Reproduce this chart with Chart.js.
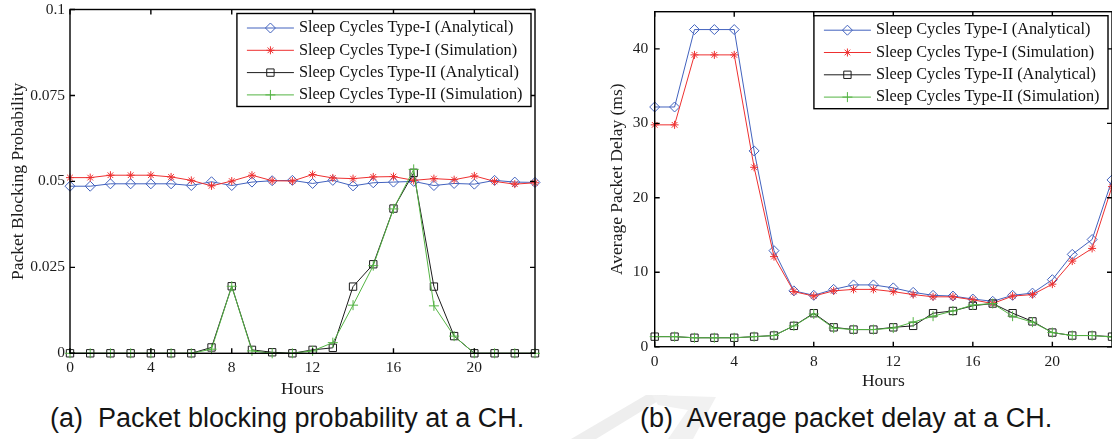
<!DOCTYPE html>
<html>
<head>
<meta charset="utf-8">
<script src="https://cdn.jsdelivr.net/npm/chart.js@4/dist/chart.umd.min.js"></script>
<style>
  html, body { margin: 0; padding: 0; background: #fff; width: 1112px; height: 439px; overflow: hidden; }
  #wrap { position: relative; width: 1112px; height: 439px; overflow: hidden; }
  #mark { position: absolute; left: 0; top: 0; }
  canvas { position: absolute; top: 0; }
  #cA { left: 0; }
  #cB { left: 598px; }
  .cap { position: absolute; top: 405px; font: 27px 'Liberation Sans', Arial, sans-serif; line-height: 27px; white-space: pre; color: #151515; }
</style>
</head>
<body>
<div id="wrap">
  <svg id="mark" width="1112" height="439">
    <polygon points="571,439 646,395 668,395 596,439" fill="#eeeeee"/>
    <polygon points="652,395 716,397 693,439 668,439 688,410 658,405" fill="#f1f1f1"/>
  </svg>
  <canvas id="cA" width="560" height="400" style="width:560px;height:400px"></canvas>
  <canvas id="cB" width="530" height="395" style="width:530px;height:395px"></canvas>
  <div class="cap" style="left:50px">(a)  Packet blocking probability at a CH.</div>
  <div class="cap" style="left:640px">(b)  Average packet delay at a CH.</div>
</div>
<script>
// Hour of day (x axis) shared by both panels
const hours = [0, 1, 2, 3, 4, 5, 6, 7, 8, 9, 10, 11, 12, 13, 14, 15, 16, 17, 18, 19, 20, 21, 22, 23];

const seriesNames = [
  'Sleep Cycles Type-I (Analytical)',
  'Sleep Cycles Type-I (Simulation)',
  'Sleep Cycles Type-II (Analytical)',
  'Sleep Cycles Type-II (Simulation)'
];

// Panel (a): packet blocking probability
const blockT1Analytical = [0.0486, 0.0486, 0.0493, 0.0493, 0.0493, 0.0493, 0.0488, 0.0499, 0.0488, 0.0498, 0.0502, 0.0503, 0.0494, 0.0503, 0.0487, 0.0496, 0.0498, 0.0500, 0.0488, 0.0494, 0.0492, 0.0503, 0.0498, 0.0497];
const blockT1Simulation = [0.0511, 0.0511, 0.0518, 0.0518, 0.0518, 0.0513, 0.0503, 0.0487, 0.0501, 0.0518, 0.0502, 0.0501, 0.0520, 0.0510, 0.0508, 0.0513, 0.0514, 0.0503, 0.0508, 0.0505, 0.0516, 0.0500, 0.0492, 0.0496];
const blockT2Analytical = [0, 0, 0, 0, 0, 0, 0, 0.0017, 0.0195, 0.0010, 0.0003, 0, 0.0010, 0.0016, 0.0194, 0.0259, 0.0421, 0.0525, 0.0194, 0.0050, 0, 0, 0, 0];
const blockT2Simulation = [0, 0, 0, 0, 0, 0, 0, 0.0012, 0.0195, 0.0007, 0, 0, 0.0007, 0.0031, 0.0140, 0.0255, 0.0420, 0.0535, 0.0138, 0.0050, 0, 0, 0, 0];

// Panel (b): average packet delay (ms)
const delayT1Analytical = [32.2, 32.2, 42.6, 42.6, 42.6, 26.3, 12.9, 7.5, 6.9, 7.7, 8.3, 8.3, 7.9, 7.3, 6.9, 6.8, 6.4, 6.1, 6.9, 7.2, 9.0, 12.4, 14.4, 22.4];
const delayT1Simulation = [29.8, 29.8, 39.2, 39.2, 39.2, 24.1, 12.1, 7.4, 6.8, 7.5, 7.7, 7.7, 7.4, 7.0, 6.7, 6.7, 6.3, 5.8, 6.8, 7.0, 8.4, 11.5, 13.2, 21.5];
const delayT2Analytical = [1.35, 1.35, 1.2, 1.2, 1.2, 1.35, 1.5, 2.8, 4.5, 2.6, 2.3, 2.3, 2.6, 2.8, 4.5, 4.8, 5.5, 5.8, 4.5, 3.4, 1.9, 1.5, 1.5, 1.35];
const delayT2Simulation = [1.35, 1.35, 1.2, 1.2, 1.2, 1.35, 1.5, 2.8, 4.4, 2.5, 2.3, 2.3, 2.5, 3.3, 4.1, 4.8, 5.6, 5.8, 4.1, 3.3, 1.9, 1.5, 1.5, 1.3];

// Tick values and their printed labels
const xTickValues = [0, 4, 8, 12, 16, 20];
const xTickLabels = ['0', '4', '8', '12', '16', '20'];
const yTickValuesA = [0, 0.025, 0.05, 0.075, 0.1];
const yTickLabelsA = ['0', '0.025', '0.05', '0.075', '0.1'];
const yTickValuesB = [0, 10, 20, 30, 40];
const yTickLabelsB = ['0', '10', '20', '30', '40'];

const SERIF = "'Liberation Serif', 'Times New Roman', serif";
const tickFont = { family: SERIF, size: 15.5 };
const titleFont = { family: SERIF, size: 17.5 };
const keyFont = '16.3px ' + SERIF;
const INK = '#1c1c1c';

const styles = [
  { color: 'rgb(66,98,190)', point: 'rectRot', r: 5 },
  { color: 'rgb(238,48,48)', point: 'star', r: 4 },
  { color: 'rgb(28,28,28)', point: 'rect', r: 5.2 },
  { color: 'rgb(84,180,68)', point: 'cross', r: 5 }
];

function makeDatasets(arrays) {
  return arrays.map((vals, i) => ({
    label: seriesNames[i],
    data: hours.map((h, k) => ({ x: h, y: vals[k] })),
    borderColor: styles[i].color,
    backgroundColor: 'rgba(0,0,0,0)',
    borderWidth: 1,
    pointStyle: styles[i].point,
    pointRadius: styles[i].r,
    pointBorderWidth: 1,
    pointBorderColor: styles[i].color,
    pointBackgroundColor: 'rgba(0,0,0,0)',
    tension: 0,
    clip: false,
    order: 4 - i
  }));
}

// Boxed axes with inward tick marks, plus the boxed key in the upper right
const frameAndKey = {
  id: 'frameAndKey',
  afterDraw(chart, args, opts) {
    const { ctx, chartArea: a } = chart;
    const xs = chart.scales.x, ys = chart.scales.y;
    ctx.save();
    ctx.strokeStyle = '#000';
    ctx.lineWidth = 1.4;
    ctx.strokeRect(a.left, a.top, a.right - a.left, a.bottom - a.top);
    ctx.beginPath();
    opts.xTicks.forEach(v => {
      const p = xs.getPixelForValue(v);
      ctx.moveTo(p, a.bottom); ctx.lineTo(p, a.bottom - 5);
      ctx.moveTo(p, a.top); ctx.lineTo(p, a.top + 5);
    });
    opts.yTicks.forEach(v => {
      const p = ys.getPixelForValue(v);
      ctx.moveTo(a.left, p); ctx.lineTo(a.left + 5, p);
      ctx.moveTo(a.right, p); ctx.lineTo(a.right - 5, p);
    });
    ctx.stroke();

    // key
    ctx.font = keyFont;
    const sets = chart.data.datasets;
    const tw = Math.max(...sets.map(d => ctx.measureText(d.label).width));
    const bw = 62 + tw + 8.5;
    const bh = 93;
    const bx = a.right - 4 - bw;
    const by = a.top + 4;
    ctx.fillStyle = '#fff';
    ctx.fillRect(bx, by, bw, bh);
    ctx.lineWidth = 1.4;
    ctx.strokeStyle = '#000';
    ctx.strokeRect(bx, by, bw, bh);
    sets.forEach((d, i) => {
      const ry = by + 14.5 + i * 22.3;
      ctx.strokeStyle = d.borderColor;
      ctx.lineWidth = 1;
      ctx.beginPath();
      ctx.moveTo(bx + 10, ry);
      ctx.lineTo(bx + 57, ry);
      ctx.stroke();
      ctx.fillStyle = 'rgba(0,0,0,0)';
      Chart.helpers.drawPoint(ctx, { pointStyle: d.pointStyle, radius: d.pointRadius, borderWidth: 1, rotation: 0 }, bx + 33.5, ry);
      ctx.fillStyle = '#111';
      ctx.textBaseline = 'middle';
      ctx.textAlign = 'left';
      ctx.fillText(d.label, bx + 62, ry);
    });
    ctx.restore();
  }
};

function makeChart(canvasId, arrays, cfg) {
  return new Chart(document.getElementById(canvasId), {
    type: 'line',
    data: { datasets: makeDatasets(arrays) },
    plugins: [frameAndKey],
    options: {
      responsive: false,
      animation: false,
      events: [],
      layout: { padding: { left: 0, top: cfg.top, right: cfg.right, bottom: 0 } },
      plugins: {
        legend: { display: false },
        tooltip: { enabled: false },
        frameAndKey: { xTicks: xTickValues, yTicks: cfg.yTicks }
      },
      scales: {
        x: {
          type: 'linear', min: 0, max: 23,
          afterBuildTicks: s => { s.ticks = xTickValues.map(v => ({ value: v })); },
          ticks: { autoSkip: false, maxRotation: 0, padding: cfg.xPad, font: tickFont, color: INK,
                   callback: (v, i) => xTickLabels[i] },
          grid: { display: false, drawTicks: false },
          border: { display: false },
          title: { display: true, text: 'Hours', font: titleFont, color: INK, padding: { top: 0, bottom: cfg.xTitlePad } },
          afterFit: s => { s.height = cfg.xHeight; s.paddingLeft = 0; s.paddingRight = 0; }
        },
        y: {
          type: 'linear', min: cfg.yTicks[0], max: cfg.yMax,
          afterBuildTicks: s => { s.ticks = cfg.yTicks.map(v => ({ value: v })); },
          ticks: { autoSkip: false, padding: cfg.yPad, font: tickFont, color: INK,
                   callback: (v, i) => cfg.yLabels[i] },
          grid: { display: false, drawTicks: false },
          border: { display: false },
          title: { display: true, text: cfg.yTitle, font: titleFont, color: INK, padding: { top: cfg.yTitlePad, bottom: 0 } },
          afterFit: s => { s.width = cfg.yWidth; s.paddingTop = 0; s.paddingBottom = 0; }
        }
      }
    }
  });
}

makeChart('cA', [blockT1Analytical, blockT1Simulation, blockT2Analytical, blockT2Simulation], {
  top: 9.5, right: 25, xHeight: 46.7, yWidth: 70,
  xPad: 5, yPad: 5, xTitlePad: 0.5, yTitlePad: 7.5,
  yMax: 0.1, yTicks: yTickValuesA, yLabels: yTickLabelsA,
  yTitle: 'Packet Blocking Probability'
});

makeChart('cB', [delayT1Analytical, delayT1Simulation, delayT2Analytical, delayT2Simulation], {
  top: 11.7, right: 16, xHeight: 48.3, yWidth: 56.7,
  xPad: 6, yPad: 6.5, xTitlePad: 3, yTitlePad: 8.5,
  yMax: 45, yTicks: yTickValuesB, yLabels: yTickLabelsB,
  yTitle: 'Average Packet Delay (ms)'
});
</script>
</body>
</html>
